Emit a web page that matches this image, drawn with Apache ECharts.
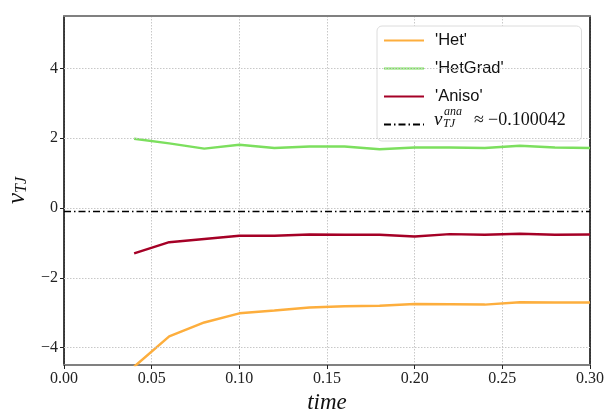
<!DOCTYPE html>
<html><head><meta charset="utf-8">
<script src="https://cdn.jsdelivr.net/npm/echarts@6/dist/echarts.min.js"></script>
<style>html,body{margin:0;padding:0;background:#fff}#c{width:606px;height:409px}</style>
</head><body><div id="c"></div>
<script>
const times = [0.04,0.06,0.08,0.10,0.12,0.14,0.16,0.18,0.20,0.22,0.24,0.26,0.28,0.30];
const het = [-4.55,-3.68,-3.28,-3.02,-2.94,-2.85,-2.82,-2.80,-2.75,-2.76,-2.77,-2.70,-2.71,-2.71];
const hetGrad = [1.98,1.85,1.70,1.81,1.72,1.76,1.76,1.68,1.73,1.73,1.72,1.78,1.73,1.72];
const aniso = [-1.30,-0.98,-0.89,-0.80,-0.80,-0.76,-0.77,-0.77,-0.82,-0.75,-0.77,-0.74,-0.77,-0.76];
const vAna = -0.100042;
const yTicks = [-4,-2,0,2,4];
const names = ["'Het'","'HetGrad'","'Aniso'","vana"];

const pair = (xs, ys) => xs.map((x,i)=>[x, ys[i]]);
const serif = 'Liberation Serif';
const chart = echarts.init(document.getElementById('c'));
const gridStyle = {show:true, lineStyle:{color:'#c8c8c8', type:[1.5,1.5], width:1}};
const mathText = (text, x, y, size, italic) => ({type:'text', x, y, z:100,
  style:{text, font:(italic?'italic ':'')+size+'px "'+serif+'"', fill:'#111', verticalAlign:'middle', align:'left'}});
chart.setOption({
  animation:false,
  grid:{left:64, right:16, top:16, bottom:44, outerBoundsMode:'none', containLabel:false},
  legend:{
    orient:'vertical', left:377, top:26,
    data:names,
    backgroundColor:'#fff', borderColor:'#dcdcdc', borderWidth:1, borderRadius:5,
    padding:[6,9,8,6], itemWidth:40, itemHeight:14, itemGap:11,
    itemStyle:{opacity:0},
    textStyle:{fontFamily:'Liberation Sans', fontSize:16.5, color:'#111', padding:[0,0,0,6]},
    formatter: n => n==='vana' ? '\u00a0'.repeat(30) : n
  },
  graphic:[
    mathText('v', 434, 120, 19, true),
    mathText('ana', 444, 112, 12, true),
    mathText('TJ', 443, 124, 12, true),
    mathText('≈', 474, 120, 18, false),
    mathText('−' + Math.abs(vAna).toFixed(6), 488, 120, 18, false)
  ],
  xAxis:[{
    type:'value', min:0, max:0.3, interval:0.05,
    name:'time', nameLocation:'middle', nameGap:25,
    nameTextStyle:{fontFamily:serif, fontStyle:'italic', fontSize:23, color:'#111'},
    axisLine:{show:true, onZero:false, lineStyle:{color:'#808080', width:2}},
    axisTick:{show:true, length:4, lineStyle:{color:'#222', width:1}},
    axisLabel:{fontFamily:serif, fontSize:16, color:'#222', margin:6, formatter:v=>v.toFixed(2)},
    splitLine:gridStyle
  },{
    type:'value', min:0, max:0.3, position:'top',
    axisLine:{show:true, onZero:false, lineStyle:{color:'#808080', width:2}},
    axisTick:{show:false}, axisLabel:{show:false}, splitLine:{show:false}
  }],
  yAxis:[{
    type:'value', min:-4.5, max:5.5,
    name:'{v|v}{s|TJ}', nameLocation:'middle', nameGap:34, nameRotate:90,
    nameTextStyle:{rich:{
      v:{fontFamily:serif, fontStyle:'italic', fontSize:25, color:'#111'},
      s:{fontFamily:serif, fontStyle:'italic', fontSize:16, color:'#111', padding:[10,0,0,0]}
    }},
    axisLine:{show:true, onZero:false, lineStyle:{color:'#000', width:1.5}},
    axisTick:{show:true, length:4, customValues:yTicks, lineStyle:{color:'#222', width:1}},
    axisLabel:{fontFamily:serif, fontSize:16, color:'#222', margin:6, customValues:yTicks,
      formatter:v=> v<0 ? '−'+Math.abs(v) : String(v)},
    splitLine:{show:false}
  },{
    type:'value', min:-4.5, max:5.5, position:'right',
    axisLine:{show:true, onZero:false, lineStyle:{color:'#000', width:1.5}},
    axisTick:{show:false}, axisLabel:{show:false}, splitLine:{show:false}
  }],
  series:[
    {name:'grid', type:'line', data:[], silent:true,
     markLine:{symbol:'none', silent:true, label:{show:false},
       lineStyle:{color:'#c8c8c8', type:[1.5,1.5], width:1},
       data: yTicks.map(t=>({yAxis:t}))}},
    {name:names[0], type:'line', data:pair(times,het), showSymbol:false, symbol:'none',
     lineStyle:{color:'#FDAE3D', width:2.5}, itemStyle:{color:'#FDAE3D'}},
    {name:names[1], type:'line', data:pair(times,hetGrad), showSymbol:false, symbol:'none',
     lineStyle:{color:'#7CDF5E', width:2.5}, itemStyle:{color:'#7CDF5E'}},
    {name:names[2], type:'line', data:pair(times,aniso), showSymbol:false, symbol:'none',
     lineStyle:{color:'#A50026', width:2.5}, itemStyle:{color:'#A50026'}},
    {name:names[3], type:'line', data:[[0,vAna],[0.3,vAna]], showSymbol:false, symbol:'none', z:5,
     lineStyle:{color:'#000', width:1.5, type:[7,3,1.5,3]}, itemStyle:{color:'#000'}}
  ]
});
</script></body></html>
